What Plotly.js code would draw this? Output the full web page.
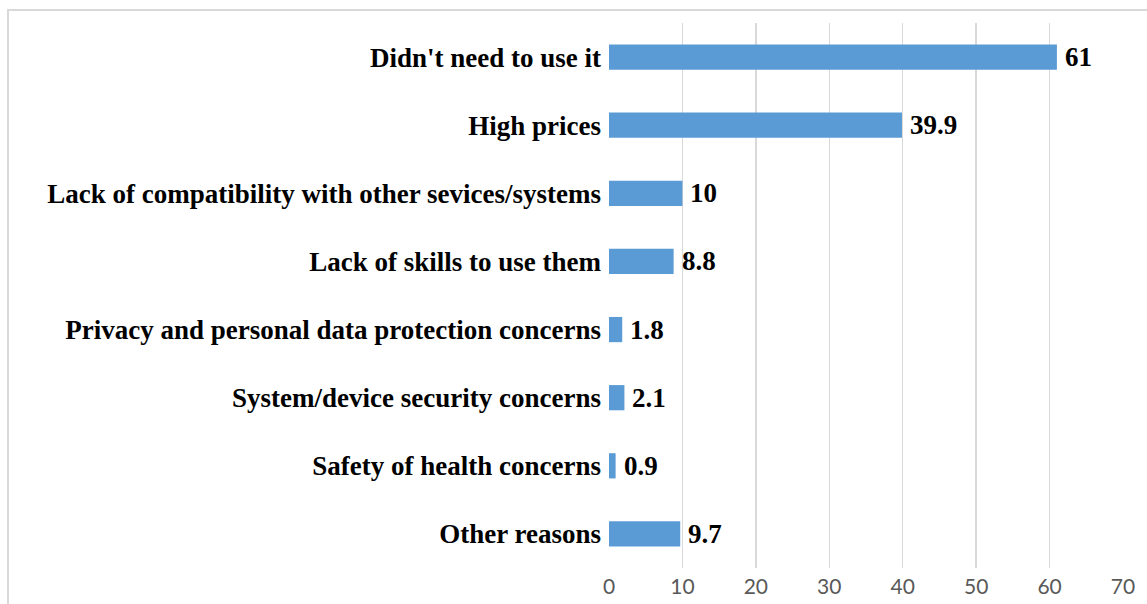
<!DOCTYPE html>
<html>
<head>
<meta charset="utf-8">
<script src="https://cdn.plot.ly/plotly-3.0.1.min.js"></script>
<style>
html,body{margin:0;padding:0;background:#fff;}
#wrap{position:relative;width:1147px;height:604px;overflow:hidden;}
#chart{width:1147px;height:604px;}
#frame{position:absolute;left:7px;top:9px;width:1200px;height:700px;border:2px solid #d9d9d9;pointer-events:none;box-sizing:border-box;}
</style>
</head>
<body>
<div id="wrap"><div id="chart"></div><div id="frame"></div></div>
<script>
const categories = [
  "Didn't need to use it",
  "High prices",
  "Lack of compatibility with other sevices/systems",
  "Lack of skills to use them",
  "Privacy and personal data protection concerns",
  "System/device security concerns",
  "Safety of health concerns",
  "Other reasons"
];
const values = [61, 39.9, 10, 8.8, 1.8, 2.1, 0.9, 9.7];
const xTicks = [0, 10, 20, 30, 40, 50, 60, 70];

const serif = 'Liberation Serif, Times New Roman, serif';

const trace = {
  type: 'bar',
  orientation: 'h',
  y: categories,
  x: values,
  marker: {color: '#5B9BD5'},
  hoverinfo: 'none'
};

const annotations = values.map((v, i) => ({
  x: v, y: categories[i], xref: 'x', yref: 'y',
  text: String(v), showarrow: false,
  xanchor: 'left', yanchor: 'middle', xshift: 6, yshift: 0,
  font: {family: serif, size: 27, color: '#000', weight: 'bold'}
}));

const layout = {
  width: 1147, height: 604,
  margin: {l: 609, r: 24, t: 23, b: 36, pad: 0},
  paper_bgcolor: '#fff', plot_bgcolor: '#fff',
  bargap: 0.63,
  showlegend: false,
  annotations: annotations,
  xaxis: {
    range: [0, 70],
    tickvals: xTicks,
    ticktext: xTicks.map(String),
    showgrid: true, gridcolor: '#d9d9d9', gridwidth: 1.5,
    zeroline: false, showline: false, ticks: '',
    ticklabelstandoff: 4,
    tickfont: {family: 'Lato, sans-serif', size: 21, color: '#595959'},
    fixedrange: true
  },
  yaxis: {
    autorange: 'reversed',
    showgrid: false, zeroline: false, showline: false, ticks: '',
    ticklabelstandoff: 7,
    tickfont: {family: serif, size: 27, color: '#000', weight: 'bold'},
    fixedrange: true
  }
};

Plotly.newPlot('chart', [trace], layout, {displayModeBar: false, staticPlot: true});
</script>
</body>
</html>
